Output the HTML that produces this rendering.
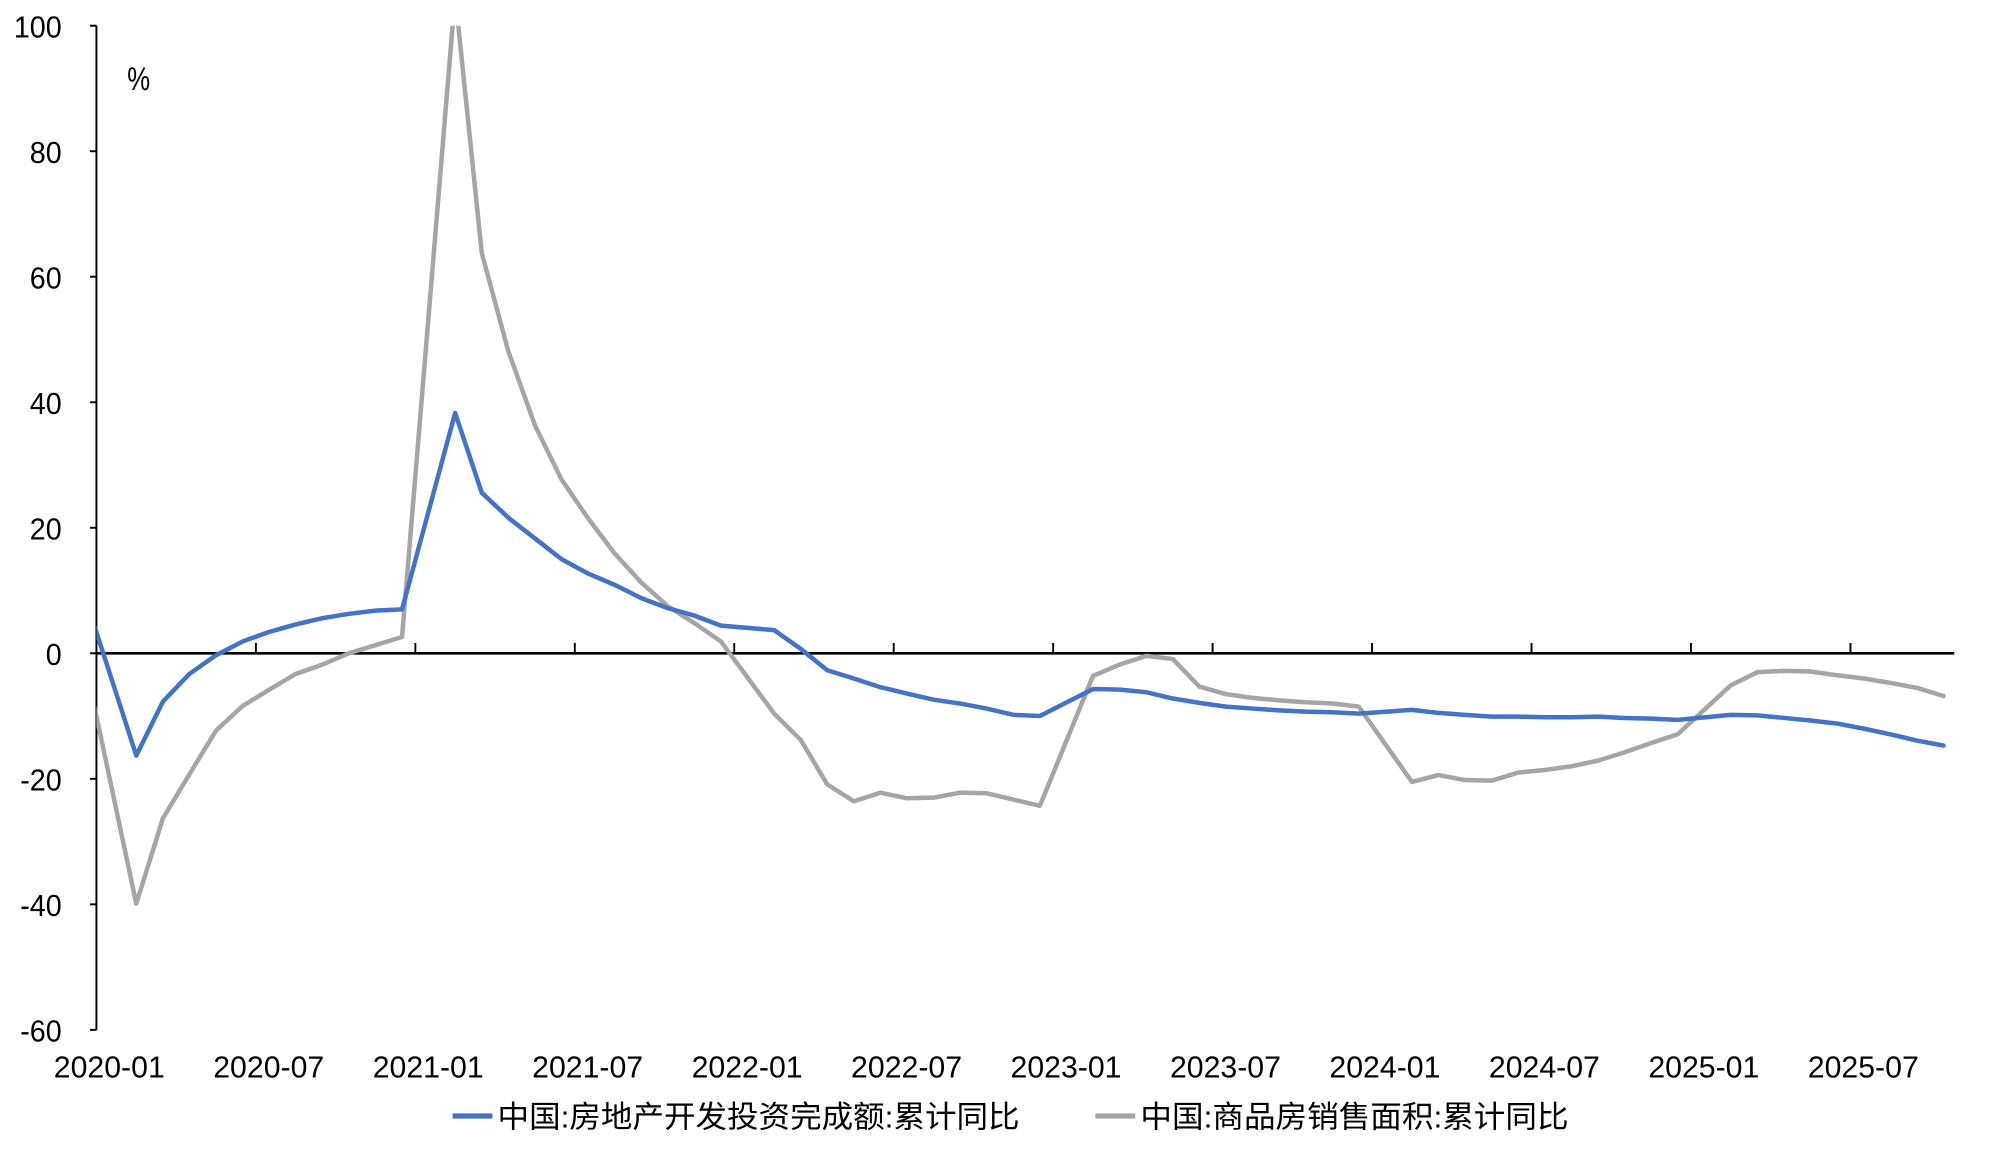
<!DOCTYPE html>
<html><head><meta charset="utf-8"><style>
html,body{margin:0;padding:0;background:#fff;}
svg{display:block;}
text{font-family:"Liberation Sans","Noto Sans CJK SC",sans-serif;fill:#000;}
</style></head><body>
<svg id="chart" width="2016" height="1152" viewBox="0 0 1568 896" xmlns="http://www.w3.org/2000/svg">
<defs><clipPath id="plotclip"><rect x="75" y="20" width="1460" height="782"/></clipPath></defs>
<g id="axes"></g>
<g id="series" clip-path="url(#plotclip)"></g>
<text x="99" y="70" font-size="25" transform="translate(99 0) scale(0.8 1) translate(-99 0)">%</text>
<g>
<g>
<line x1="352" y1="868" x2="383" y2="868" stroke="#4472C4" stroke-width="4"/>
<text x="387" y="877" font-size="24" textLength="406" lengthAdjust="spacingAndGlyphs">中国:房地产开发投资完成额:累计同比</text>
</g>
<g>
<line x1="852" y1="868" x2="883" y2="868" stroke="#A5A5A5" stroke-width="4"/>
<text x="887" y="877" font-size="24" textLength="333" lengthAdjust="spacingAndGlyphs">中国:商品房销售面积:累计同比</text>
</g>
</g>
</svg>
<script>
// month indices relative to 2020-01 (January omitted each year; -1 = 2019-12)
const months = [-1,1,2,3,4,5,6,7,8,9,10,11, 13,14,15,16,17,18,19,20,21,22,23, 25,26,27,28,29,30,31,32,33,34,35, 37,38,39,40,41,42,43,44,45,46,47, 49,50,51,52,53,54,55,56,57,58,59, 61,62,63,64,65,66,67,68,69];
const investment = [9.9,-16.3,-7.7,-3.3,-0.3,1.9,3.4,4.6,5.6,6.3,6.8,7.0,
 38.3,25.6,21.6,18.3,15.0,12.7,10.9,8.8,7.2,6.0,4.4,
 3.7,0.7,-2.7,-4.0,-5.4,-6.4,-7.4,-8.0,-8.8,-9.8,-10.0,
 -5.7,-5.8,-6.2,-7.2,-7.9,-8.5,-8.8,-9.1,-9.3,-9.4,-9.6,
 -9.0,-9.5,-9.8,-10.1,-10.1,-10.2,-10.2,-10.1,-10.3,-10.4,-10.6,
 -9.8,-9.9,-10.3,-10.7,-11.2,-12.0,-12.9,-13.9,-14.7];
const salesArea = [-0.1,-39.9,-26.3,-19.3,-12.3,-8.4,-5.8,-3.3,-1.8,0.0,1.3,2.6,
 104.9,63.8,48.1,36.3,27.7,21.5,15.9,11.3,7.5,4.8,1.9,
 -9.6,-13.8,-20.9,-23.6,-22.2,-23.1,-23.0,-22.2,-22.3,-23.3,-24.3,
 -3.6,-1.8,-0.4,-0.9,-5.3,-6.5,-7.1,-7.5,-7.8,-8.0,-8.5,
 -20.5,-19.4,-20.2,-20.3,-19.0,-18.6,-18.0,-17.1,-15.8,-14.3,-12.9,
 -5.1,-3.0,-2.8,-2.9,-3.5,-4.0,-4.7,-5.5,-6.8];
const yTicks = [100,80,60,40,20,0,-20,-40,-60];
const xTickLabels = ["2020-01","2020-07","2021-01","2021-07","2022-01","2022-07","2023-01","2023-07","2024-01","2024-07","2025-01","2025-07"];
const xTickMonths = [0,6,12,18,24,30,36,42,48,54,60,66];

const X0=75, MW=20.67, TOP=20, BOT=801, YMAX=100, YMIN=-60, XEND=1520;
const xm = m => X0 + MW*(m+0.5);
const xt = m => X0 + MW*m;
const y = v => TOP + (YMAX-v)/(YMAX-YMIN)*(BOT-TOP);
const NS="http://www.w3.org/2000/svg";
const axes=document.getElementById('axes'), series=document.getElementById('series');
function mk(tag,attrs,parent){const e=document.createElementNS(NS,tag);for(const k in attrs)e.setAttribute(k,attrs[k]);parent.appendChild(e);return e;}

let yaxis=mk('line',{x1:X0,y1:TOP,x2:X0,y2:BOT,stroke:'#000','stroke-width':1.5},axes);


yTicks.forEach(v=>{
  let t=mk('line',{x1:X0-5,y1:y(v),x2:X0,y2:y(v),stroke:'#000','stroke-width':1.5},axes);
  
  
  let l=mk('text',{x:48,y:y(v)+9,'font-size':24,'text-anchor':'end',transform:`translate(48 0) scale(0.93 1) translate(-48 0)`},axes);
  l.textContent=v;
  
  
});
let xaxis=mk('line',{x1:X0,y1:y(0),x2:XEND,y2:y(0),stroke:'#000','stroke-width':2},axes);


xTickMonths.forEach((m,i)=>{
  if(i>0){
    let t=mk('line',{x1:xt(m),y1:y(0)-8,x2:xt(m),y2:y(0),stroke:'#000','stroke-width':1.5},axes);
    
    
  }
  const cx=xt(m)+10;
  let l=mk('text',{x:cx,y:838,'font-size':24,'text-anchor':'middle',transform:`translate(${cx} 0) scale(0.98 1) translate(${-cx} 0)`},axes);
  l.textContent=xTickLabels[i];
  
  
});
function drawLine(vals,color,name){
  const pts=months.map((m,i)=>xm(m).toFixed(1)+','+y(vals[i]).toFixed(1)).join(' ');
  let p=mk('polyline',{points:pts,fill:'none',stroke:color,'stroke-width':3.5,'stroke-linejoin':'round','stroke-linecap':'round'},series);
  
  
}
drawLine(salesArea,'#A5A5A5','sales-area-line');
drawLine(investment,'#4472C4','investment-line');
</script>
</body></html>
